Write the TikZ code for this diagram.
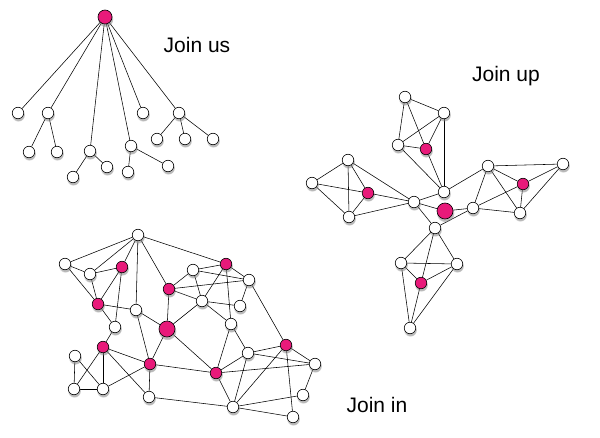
\documentclass[tikz,border=0pt]{standalone}
\usepackage{fontspec}
\setmainfont{Liberation Sans}
\usetikzlibrary{shadows,backgrounds}
\definecolor{pk}{RGB}{232,26,122}
\begin{document}
\begin{tikzpicture}[x=1pt,y=-1pt,
  nd/.style={circle,draw=black,line width=0.6pt,inner sep=0pt,minimum size=11.5pt,
     circular drop shadow={shadow xshift=0.3pt,shadow yshift=-1.8pt,shadow scale=1.15,opacity=0.55}},
  wn/.style={nd,fill=white},
  pn/.style={nd,fill=pk},
  bpn/.style={nd,fill=pk,minimum size=16pt},
  ed/.style={line width=0.55pt,black},
  lbl/.style={font=\fontsize{21}{24}\selectfont,inner sep=0pt}]
\useasboundingbox (0,0) rectangle (600,438);
% ---------- Join us (tree)
\node[pn,minimum size=14pt] (R) at (105,17) {};
\node[wn] (A1) at (18,113) {};
\node[wn] (A2) at (48,113) {};
\node[wn] (A3) at (90,151) {};
\node[wn] (A4) at (131,146) {};
\node[wn] (A5) at (143,113) {};
\node[wn] (A6) at (179,113) {};
\node[wn] (C1) at (29,152) {};
\node[wn] (C2) at (57,152) {};
\node[wn] (C3) at (73,177) {};
\node[wn] (C4) at (107,167) {};
\node[wn] (C5) at (128,172) {};
\node[wn] (C6) at (168,166) {};
\node[wn] (C7) at (157,139) {};
\node[wn] (C8) at (185,139) {};
\node[wn] (C9) at (213,139) {};
\node[lbl] (Lus) at (197,45) {Join us};
% ---------- Join up
\node[wn] (U1) at (405,97) {};
\node[wn] (U2) at (444,113) {};
\node[wn] (U3) at (398,145) {};
\node[pn] (U4) at (426,149) {};
\node[wn] (U5) at (348,160) {};
\node[wn] (U6) at (312,183) {};
\node[pn] (U7) at (368,193) {};
\node[wn] (U8) at (349,217) {};
\node[wn] (U9) at (414,202) {};
\node[wn] (U10) at (444,192) {};
\node[bpn] (U11) at (445,211) {};
\node[wn] (U12) at (473,208) {};
\node[wn] (U13) at (488,166) {};
\node[wn] (U14) at (563,164) {};
\node[pn] (U15) at (523,184) {};
\node[wn] (U16) at (520,213) {};
\node[wn] (U17) at (435,228) {};
\node[wn] (U18) at (401,263) {};
\node[wn] (U19) at (457,264) {};
\node[pn] (U20) at (421,283) {};
\node[wn] (U21) at (410,328) {};
\node[lbl] (Lup) at (506,76) {Join up};
% ---------- Join in
\node[wn] (N1) at (138,235) {};
\node[wn] (N2) at (65,264) {};
\node[wn] (N3) at (90,274) {};
\node[pn] (N4) at (122,267) {};
\node[pn] (N5) at (98,304) {};
\node[wn] (N6) at (136,310) {};
\node[wn] (N7) at (115,327) {};
\node[pn] (N8) at (169,289) {};
\node[wn] (N9) at (193,270) {};
\node[pn] (N10) at (226,264) {};
\node[wn] (N11) at (249,280) {};
\node[wn] (N12) at (202,301) {};
\node[wn] (N13) at (240,306) {};
\node[bpn] (N14) at (167,329) {};
\node[wn] (N15) at (231,324) {};
\node[pn] (N16) at (103,347) {};
\node[wn] (N17) at (75,356) {};
\node[wn] (N18) at (74,389) {};
\node[wn] (N19) at (103,389) {};
\node[pn] (N20) at (150,364) {};
\node[wn] (N21) at (149,397) {};
\node[pn] (N22) at (216,373) {};
\node[wn] (N23) at (248,353) {};
\node[pn] (N24) at (286,345) {};
\node[wn] (N25) at (315,364) {};
\node[wn] (N26) at (303,395) {};
\node[wn] (N27) at (233,407) {};
\node[wn] (N28) at (293,417) {};
\node[lbl] (Lin) at (377,405) {Join in};
% ---------- edges
\begin{pgfonlayer}{background}
\foreach \a/\b in {R/A1,R/A2,R/A3,R/A4,R/A5,R/A6,A2/C1,A2/C2,A3/C3,A3/C4,A4/C5,A4/C6,A6/C7,A6/C8,A6/C9,
  U1/U2,U1/U3,U1/U4,U2/U3,U2/U4,U3/U4,U2/U10,U3/U10,U4/U10,
  U5/U6,U5/U8,U5/U7,U5/U9,U6/U7,U6/U8,U7/U8,U7/U9,U8/U9,
  U9/U10,U9/U11,U9/U17,U10/U13,U11/U12,U17/U12,
  U13/U14,U13/U15,U13/U12,U13/U16,U14/U15,U14/U16,U15/U16,U12/U15,U12/U16,
  U17/U18,U17/U19,U17/U20,U18/U19,U18/U20,U18/U21,U19/U20,U19/U21,U20/U21,
  N1/N2,N1/N3,N1/N4,N1/N6,N1/N8,N1/N10,N2/N3,N2/N5,N3/N5,N3/N4,N4/N5,N4/N7,N5/N6,N5/N7,
  N6/N14,N6/N20,N7/N16,N8/N9,N8/N11,N8/N12,N8/N14,N9/N10,N9/N11,N9/N12,N10/N11,N10/N12,N10/N15,
  N12/N13,N12/N15,N11/N13,N11/N24,N12/N14,N14/N20,N14/N22,
  N16/N18,N16/N19,N16/N20,N16/N21,N17/N18,N17/N19,N18/N19,N19/N20,N20/N21,N20/N22,N21/N27,
  N15/N23,N15/N22,N23/N22,N23/N24,N23/N25,N23/N27,N22/N25,N22/N27,N24/N25,N24/N27,N24/N28,
  N25/N26,N26/N27,N27/N28}
  \draw[ed] (\a) -- (\b);
\end{pgfonlayer}
\end{tikzpicture}
\end{document}
